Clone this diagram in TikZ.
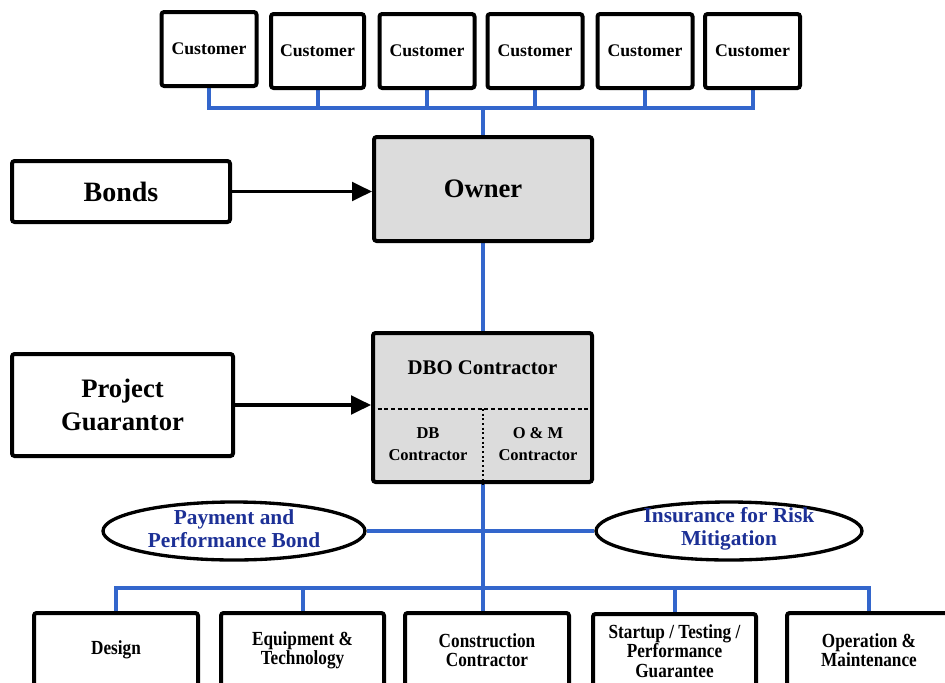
\documentclass[tikz,border=0pt]{standalone}
\usepackage{fontspec}
\setmainfont{Liberation Serif}
\newfontfamily\narrowfont[FakeStretch=0.86]{Liberation Serif}
\usetikzlibrary{arrows.meta,shapes.geometric,calc}
\definecolor{linkblue}{RGB}{51,102,204}
\definecolor{boxgray}{RGB}{220,220,220}
\definecolor{ovaltext}{RGB}{28,48,150}
\def\pxu{0.75pt}
\pgfdeclarelayer{bg}
\pgfsetlayers{bg,main}
\tikzset{
  box/.style={draw=black, line width=3pt, rounded corners=2pt, fill=white, inner sep=0pt, align=center, font=\bfseries},
  graybox/.style={box, fill=boxgray},
  link/.style={draw=linkblue, line width=3pt},
  feed/.style={draw=black, line width=2.4pt, -{Triangle[length=15pt,width=14pt]}},
  oval/.style={ellipse, draw=black, line width=2.5pt, fill=white, inner sep=0pt},
  ovaltxt/.style={inner sep=0pt, align=center, text=ovaltext, font=\bfseries\fontsize{16}{17}\selectfont},
  cust/.style={box, minimum width=95*\pxu, minimum height=74*\pxu, font=\bfseries\fontsize{13.3}{15}\selectfont},
  bottombox/.style={box, minimum width=164*\pxu, minimum height=74*\pxu, font=\narrowfont\bfseries\fontsize{15}{14.5}\selectfont},
  divider/.style={draw=black, line width=1.2pt, dash pattern=on 3pt off 2pt},
  intxt/.style={inner sep=0pt, align=center},
}
\begin{document}
\begin{tikzpicture}[x=0.75pt,y=-0.75pt]
\path[use as bounding box] (0,0) rectangle (945,682);
\clip (0,0) rectangle (945,682);

% customers
\node[cust] (c1) at (209,49) {Customer};
\node[cust, minimum width=93*\pxu] (c2) at (317.5,51) {Customer};
\node[cust] (c3) at (427,51) {Customer};
\node[cust] (c4) at (535,51) {Customer};
\node[cust] (c5) at (645,51) {Customer};
\node[cust] (c6) at (752.5,51) {Customer};

% owner and bonds
\node[graybox, minimum width=218*\pxu, minimum height=104*\pxu, font=\bfseries\fontsize{20}{24}\selectfont] (owner) at (483,189) {Owner};
\node[box, minimum width=218*\pxu, minimum height=61*\pxu, font=\bfseries\fontsize{21}{24}\selectfont] (bonds) at (121,191.5) {Bonds};

% DBO contractor
\node[graybox, minimum width=219*\pxu, minimum height=149*\pxu] (dbo) at (482.5,407.5) {};
\coordinate (dm) at (483,409);
\draw[divider] (dbo.west |- dm) -- (dbo.east |- dm);
\draw[divider, dash pattern=on 1.5pt off 2pt] (dm) -- (dm |- dbo.south);
\node[intxt, font=\bfseries\fontsize{15.6}{18}\selectfont] (dbot) at (482.5,368) {DBO Contractor};
\node[intxt, font=\bfseries\fontsize{12.4}{16.5}\selectfont] (dbc) at (428,444) {DB\\Contractor};
\node[intxt, font=\bfseries\fontsize{12.4}{16.5}\selectfont] (omc) at (538,444) {O \& M\\Contractor};

% project guarantor
\node[box, minimum width=221*\pxu, minimum height=102*\pxu, font=\bfseries\fontsize{20}{24.75}\selectfont] (pg) at (122.5,405) {Project\\Guarantor};

% ovals
\node[oval, minimum width=262*\pxu, minimum height=58*\pxu] (e1) at (234,531) {};
\node[ovaltxt] (e1t) at (234,529) {Payment and\\Performance Bond};
\node[oval, minimum width=266*\pxu, minimum height=58*\pxu] (e2) at (729,531) {};
\node[ovaltxt] (e2t) at (729,529) {Insurance for Risk\\Mitigation};

% bottom boxes
\node[bottombox] (b1) at (116,650) {Design};
\node[bottombox, minimum width=163*\pxu] (b2) at (302.5,650) {Equipment \&\\Technology};
\node[bottombox] (b3) at (487,650) {Construction\\Contractor};
\node[bottombox, minimum width=163*\pxu] (b4) at (674.5,651) {Startup / Testing /\\Performance\\Guarantee};
\node[bottombox] (b5) at (869,650) {Operation \&\\Maintenance};

% connectors
\coordinate (busT) at (483,108);
\coordinate (busB) at (483,588);
\begin{pgfonlayer}{bg}
\draw[link] (c1.south) -- (c1.south |- busT) -- (c6.south |- busT) -- (c6.south);
\foreach \n in {c2,c3,c4,c5} \draw[link] (\n.south) -- (\n.south |- busT);
\draw[link] (busT) -- (owner.north);
\draw[link] (owner.south) -- (owner.south |- dbo.north);
\draw[link] (dbo.south) -- (dbo.south |- b3.north);
\draw[link] (e1.east) -- (e2.west);
\draw[link] (b1.north) -- (b1.north |- busB) -- (b5.north |- busB) -- (b5.north);
\foreach \n in {b2,b4} \draw[link] (\n.north) -- (\n.north |- busB);
\end{pgfonlayer}
\draw[feed] (bonds.east) -- (bonds.east -| owner.west);
\draw[feed] (pg.east) -- (pg.east -| dbo.west);
\end{tikzpicture}
\end{document}
